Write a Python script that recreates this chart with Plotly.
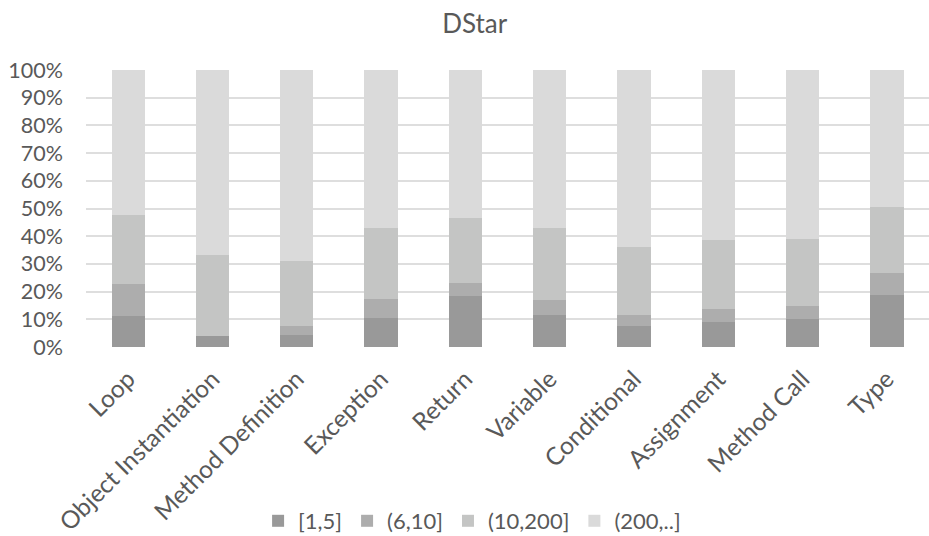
import plotly.graph_objects as go

categories = ["Loop", "Object Instantiation", "Method Definition", "Exception", "Return",
              "Variable", "Conditional", "Assignment", "Method Call", "Type"]

# share of each bucket per category (percent)
bucket_1_5 = [11.1, 3.9, 4.5, 10.5, 18.5, 11.6, 7.5, 8.9, 10.1, 18.8]
bucket_6_10 = [11.5, 0.0, 3.0, 6.9, 4.5, 5.2, 4.0, 5.0, 4.8, 8.0]
bucket_10_200 = [24.9, 29.2, 23.4, 25.5, 23.7, 26.2, 24.5, 24.7, 24.0, 23.9]
bucket_200_up = [52.5, 66.9, 69.1, 57.1, 53.3, 57.0, 64.0, 61.4, 61.1, 49.3]

series_names = ["[1,5]", "(6,10]", "(10,200]", "(200,..]"]
series_values = [bucket_1_5, bucket_6_10, bucket_10_200, bucket_200_up]
series_colors = ["#999999", "#adadad", "#c4c5c4", "#dadada"]

tick_vals = list(range(0, 101, 10))
tick_text = [f"{v}%" for v in tick_vals]

FONT = "Lato"
TEXT = "#595959"

fig = go.Figure()
for name, vals, col in zip(series_names, series_values, series_colors):
    fig.add_trace(go.Bar(x=categories, y=vals, name=name,
                         marker=dict(color=col, line=dict(width=0))))

fig.update_layout(
    barmode="stack",
    bargap=0.605,
    width=929, height=536,
    margin=dict(l=86, r=0, t=70, b=189, autoexpand=False),
    paper_bgcolor="white", plot_bgcolor="white",
    font=dict(family=FONT, color=TEXT, size=20),
    title=dict(text="DStar", x=0.511, xref="container", xanchor="center",
               y=0.955, yanchor="middle",
               font=dict(size=26, color=TEXT, family=FONT)),
    legend=dict(orientation="h", x=0.458, xanchor="center",
                y=0.028, yref="container", yanchor="middle",
                font=dict(size=22, color=TEXT), itemwidth=30, traceorder="normal"),
    xaxis=dict(tickangle=-45, showgrid=False, showline=False, ticks="",
               automargin=False, ticklabelstandoff=12,
               tickfont=dict(size=24.5, color=TEXT)),
    yaxis=dict(range=[0, 100], tickvals=tick_vals, ticktext=tick_text,
               showgrid=True, gridcolor="#dedede", gridwidth=1.5, zeroline=False,
               showline=False, ticks="", ticklabelstandoff=22, automargin=False,
               tickfont=dict(size=21.5, color=TEXT)),
)

fig.write_html("out.html")
